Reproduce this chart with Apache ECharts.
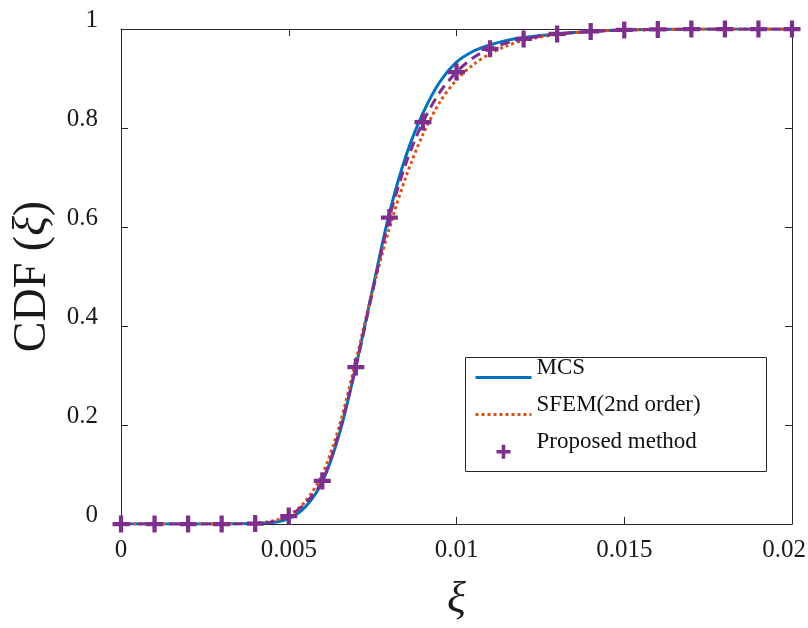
<!DOCTYPE html>
<html>
<head>
<meta charset="utf-8">
<script src="https://cdn.jsdelivr.net/npm/echarts@6/dist/echarts.min.js"></script>
<style>html,body{margin:0;padding:0;background:#fff}#c{width:808px;height:628px}</style>
</head>
<body>
<div id="c"></div>
<script>
// x sample points for the curves
const curveX = [0,0.001,0.002,0.003,0.004,0.0045,0.005,0.0055,0.006,0.0065,0.007,0.0075,0.008,0.0085,0.009,0.0095,0.01,0.0105,0.011,0.0115,0.012,0.013,0.014,0.015,0.016,0.017,0.018,0.019,0.02];
const mcsY =      [0,0,0,0,0.001,0.003,0.011,0.035,0.085,0.18,0.318,0.475,0.628,0.745,0.83,0.893,0.933,0.955,0.968,0.977,0.983,0.99,0.995,0.998,0.999,1,1,1,1];
const sfemY =     [0,0,0,0,0.002,0.006,0.017,0.046,0.1,0.196,0.33,0.472,0.598,0.703,0.787,0.852,0.897,0.928,0.95,0.966,0.977,0.989,0.995,0.998,0.999,1,1,1,1];
const proposedLineY = [0,0,0,0,0.001,0.004,0.016,0.042,0.087,0.185,0.317,0.47,0.619,0.73,0.812,0.872,0.913,0.942,0.96,0.972,0.98,0.99,0.995,0.998,0.999,1,1,1,1];
// proposed method markers
const markerX = [0,0.001,0.002,0.003,0.004,0.005,0.006,0.007,0.008,0.009,0.01,0.011,0.012,0.013,0.014,0.015,0.016,0.017,0.018,0.019,0.02];
const markerY = [0,0,0,0,0.001,0.016,0.087,0.317,0.619,0.812,0.913,0.96,0.98,0.99,0.995,0.998,0.999,1,1,1,1];
const xTicks = [0,0.005,0.01,0.015,0.02];
const yTicks = [0,0.2,0.4,0.6,0.8,1];
const names = ['MCS','SFEM(2nd order)','Proposed method'];

const pair = (xs, ys) => xs.map((x, i) => [x, ys[i]]);
const PLUS = 'path://M6,0H10V6H16V10H10V16H6V10H0V6H6Z';
const serif = 'Liberation Serif';
const axisCol = '#262626';

const chart = echarts.init(document.getElementById('c'), null, {renderer: 'canvas'});
const baseX = {
  type: 'value', min: 0, max: 0.02, interval: 0.005,
  axisLine: {show: true, onZero: false, lineStyle: {color: axisCol, width: 1}},
  axisTick: {show: true, inside: true, length: 7, lineStyle: {color: axisCol}},
  splitLine: {show: false}
};
const baseY = {
  type: 'value', min: 0, max: 1, interval: 0.2,
  axisLine: {show: true, onZero: false, lineStyle: {color: axisCol, width: 1}},
  axisTick: {show: true, inside: true, length: 7, lineStyle: {color: axisCol}},
  splitLine: {show: false}
};
const xFmt = v => {
  const r = +v.toFixed(4);
  if (!xTicks.includes(r)) return '';
  return r === xTicks[xTicks.length - 1] ? '{r|' + r + '}' : String(r);
};
chart.setOption({
  animation: false,
  backgroundColor: '#fff',
  grid: {left: 121, right: 16, top: 29, bottom: 104, containLabel: false, outerBoundsMode: 'none'},
  graphic: [{
    type: 'rect', left: 465, top: 357, z: 90, silent: true,
    shape: {width: 301, height: 114},
    style: {fill: '#fff', stroke: axisCol, lineWidth: 1}
  }],
  xAxis: [
    Object.assign({}, baseX, {
      position: 'bottom',
      axisLabel: {show: true, fontFamily: serif, fontSize: 25, color: '#1a1a1a', margin: 14,
        formatter: xFmt,
        rich: {r: {fontFamily: serif, fontSize: 25, color: '#1a1a1a', padding: [0, 16, 0, 0]}}},
      name: 'ξ', nameLocation: 'middle', nameGap: 54,
      nameTextStyle: {fontFamily: serif, fontSize: 44, fontStyle: 'italic', color: '#1a1a1a'}
    }),
    Object.assign({}, baseX, {position: 'top', axisLabel: {show: false}})
  ],
  yAxis: [
    Object.assign({}, baseY, {
      position: 'left',
      axisLabel: {show: true, fontFamily: serif, fontSize: 25, color: '#1a1a1a', margin: 23,
        verticalAlign: 'bottom', lineHeight: 18,
        formatter: v => yTicks.includes(+v.toFixed(2)) ? String(+v.toFixed(2)) : ''},
      name: 'CDF ({i|ξ})', nameLocation: 'middle', nameGap: 62, nameRotate: 90,
      nameTextStyle: {fontFamily: serif, fontSize: 46, color: '#1a1a1a',
        rich: {i: {fontFamily: serif, fontSize: 46, fontStyle: 'italic', color: '#1a1a1a'}}}
    }),
    Object.assign({}, baseY, {position: 'right', axisLabel: {show: false}})
  ],
  legend: {
    orient: 'vertical', left: 474, top: 356, z: 100,
    padding: 0, itemGap: 10, itemWidth: 56, itemHeight: 14,
    borderWidth: 0, backgroundColor: 'transparent',
    lineStyle: {width: 3},
    formatter: n => '{t|' + n + '}',
    textStyle: {fontFamily: serif, fontSize: 23, color: '#111',
      rich: {t: {fontFamily: serif, fontSize: 23, color: '#111', padding: [0, 0, 20, 0]}}},
    data: [
      {name: names[0], itemStyle: {opacity: 0}},
      {name: names[1], itemStyle: {opacity: 0}},
      {name: names[2]}
    ]
  },
  series: [
    {
      name: names[0], type: 'line', data: pair(curveX, mcsY), smooth: 0.3,
      symbol: 'none', z: 2,
      lineStyle: {color: '#0072BD', width: 3}, itemStyle: {color: '#0072BD'}
    },
    {
      name: names[1], type: 'line', data: pair(curveX, sfemY), smooth: 0.3,
      symbol: 'none', z: 3,
      lineStyle: {color: '#D95319', width: 3, type: [3, 3]}, itemStyle: {color: '#D95319'}
    },
    {
      name: 'proposed-line', type: 'line', data: pair(curveX, proposedLineY), smooth: 0.3,
      symbol: 'none', z: 4,
      lineStyle: {color: '#7E2F8E', width: 3, type: [10, 6]}, itemStyle: {color: '#7E2F8E'}
    },
    {
      name: names[2], type: 'scatter', data: pair(markerX, markerY),
      symbol: PLUS, symbolSize: 17, z: 5,
      itemStyle: {color: '#7E2F8E', opacity: 1}
    }
  ]
});
</script>
</body>
</html>
